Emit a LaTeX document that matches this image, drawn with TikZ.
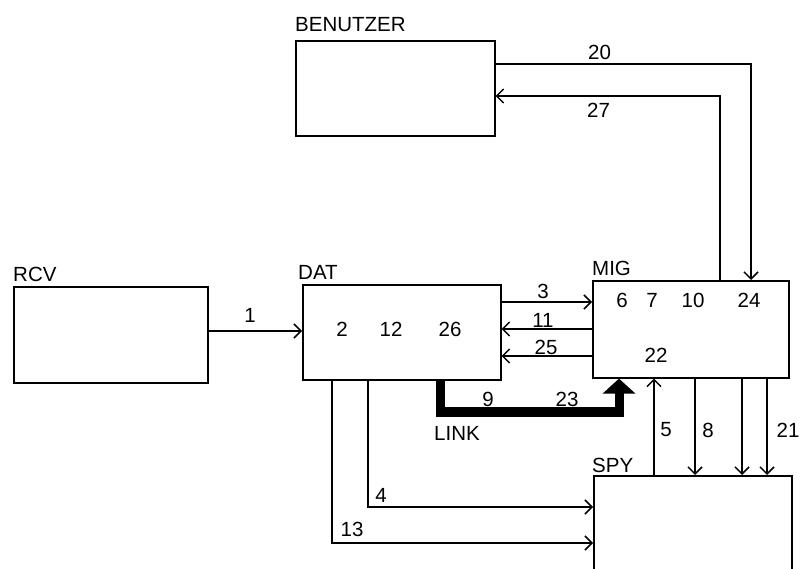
\documentclass[tikz,border=0pt]{standalone}
\usepackage{fontspec}
\setmainfont{Liberation Sans}
\usetikzlibrary{arrows.meta}
\begin{document}
\begin{tikzpicture}[x=1pt,y=-1pt,
  box/.style={draw,line width=1.6pt,rectangle,inner sep=0pt,anchor=north west},
  lbl/.style={inner sep=0pt,font=\fontsize{20.5}{21}\selectfont},
  conn/.style={line width=1.5pt},
  arr/.style={conn,-{Straight Barb[length=7pt,width=14pt,line width=1.5pt]}},
  linkline/.style={line width=9pt,-{Triangle[length=15pt,width=32pt]}}]
\clip (0,0) rectangle (801,569);
\useasboundingbox (0,0) rectangle (801,569);
% boxes
\node[box,minimum width=199pt,minimum height=95pt] (BEN) at (295,40) {};
\node[box,minimum width=194pt,minimum height=96pt] (RCV) at (13,286) {};
\node[box,minimum width=198pt,minimum height=95pt] (DAT) at (302,284) {};
\node[box,minimum width=196pt,minimum height=97pt] (MIG) at (592,280) {};
\node[box,minimum width=198pt,minimum height=200pt] (SPY) at (593,475) {};
% box titles
\node[lbl,anchor=west] (tBEN) at (295,24.5) {BENUTZER};
\node[lbl,anchor=west] (tRCV) at (13,274.5) {RCV};
\node[lbl,anchor=west] (tDAT) at (298,272.5) {DAT};
\node[lbl,anchor=west] (tMIG) at (592,268.5) {MIG};
\node[lbl,anchor=west] (tSPY) at (592,465) {SPY};
\node[lbl,anchor=west] (tLINK) at (434,433.5) {LINK};
% inside numbers
\node[lbl] (n2) at (342,329) {2};
\node[lbl] (n12) at (391,329) {12};
\node[lbl] (n26) at (450,329) {26};
\node[lbl] (n6) at (622,300) {6};
\node[lbl] (n7) at (652,300) {7};
\node[lbl] (n10) at (693,300) {10};
\node[lbl] (n24) at (749,300) {24};
\node[lbl] (n22) at (656,355.5) {22};
% connector labels
\node[lbl] (l1) at (250,315.5) {1};
\node[lbl] (l20) at (599.5,52) {20};
\node[lbl] (l27) at (598.5,110) {27};
\node[lbl] (l3) at (543,291.5) {3};
\node[lbl] (l11) at (543,320) {11};
\node[lbl] (l25) at (546,347.5) {25};
\node[lbl] (l9) at (488,399) {9};
\node[lbl] (l23) at (567,399) {23};
\node[lbl] (l5) at (666,430) {5};
\node[lbl] (l8) at (708,430) {8};
\node[lbl] (l21) at (788,430) {21};
\node[lbl] (l4) at (381,495) {4};
\node[lbl] (l13) at (352,529.5) {13};
% connectors
\draw[arr] (RCV.east |- 0,331) -- (DAT.west |- 0,331);
\draw[arr] (BEN.east |- 0,64) -- (751,64) -- (751,0 |- MIG.north);
\draw[arr] (720,0 |- MIG.north) -- (720,96) -- (BEN.east |- 0,96);
\draw[arr] (DAT.east |- 0,302) -- (MIG.west |- 0,302);
\draw[arr] (MIG.west |- 0,329) -- (DAT.east |- 0,329);
\draw[arr] (MIG.west |- 0,356) -- (DAT.east |- 0,356);
\draw[arr] (368,0 |- DAT.south) -- (368,507) -- (SPY.west |- 0,507);
\draw[arr] (332,0 |- DAT.south) -- (332,543) -- (SPY.west |- 0,543);
\draw[arr] (654,0 |- SPY.north) -- (654,0 |- MIG.south);
\draw[arr] (695,0 |- MIG.south) -- (695,0 |- SPY.north);
\draw[arr] (742,0 |- MIG.south) -- (742,0 |- SPY.north);
\draw[arr] (767,0 |- MIG.south) -- (767,0 |- SPY.north);
\draw[linkline] (440,0 |- DAT.south) -- (440,412) -- (619,412) -- (619,0 |- MIG.south);
\end{tikzpicture}
\end{document}
